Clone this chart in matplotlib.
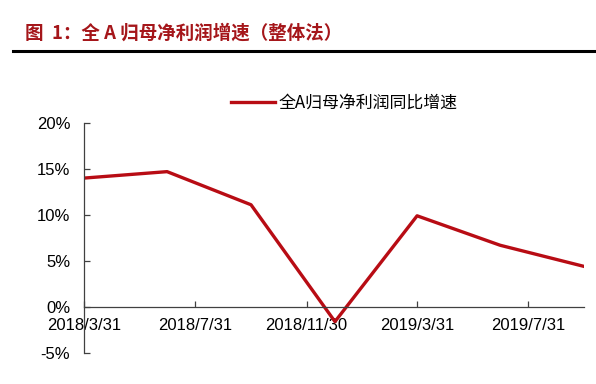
import matplotlib
matplotlib.use("Agg")
import matplotlib.pyplot as plt
import matplotlib.ticker as mticker
import pandas as pd

plt.rcParams['font.family'] = ['Liberation Sans', 'Noto Sans CJK SC', 'DejaVu Sans']

dates = ['2018-03-31', '2018-06-30', '2018-09-30', '2018-12-31',
         '2019-03-31', '2019-06-30', '2019-09-30']
growth = [14.0, 14.7, 11.1, -1.6, 9.9, 6.7, 4.4]
tick_dates = ['2018-03-31', '2018-07-31', '2018-11-30', '2019-03-31', '2019-07-31']
tick_labels = ['2018/3/31', '2018/7/31', '2018/11/30', '2019/3/31', '2019/7/31']
series_name = '全A归母净利润同比增速'
title = '图  1：全 A 归母净利润增速（整体法）'

red = '#B80C14'

fig = plt.figure(figsize=(5.96, 3.84), dpi=100)
ax = fig.add_axes([0.141, 0.081, 0.839, 0.599])

x = pd.to_datetime(dates)
ax.plot(x, growth, color=red, lw=2.4, label=series_name)

ax.set_xlim(x[0], x[-1])
ax.set_ylim(-5, 20)
ax.set_yticks([-5, 0, 5, 10, 15, 20])
ax.yaxis.set_major_formatter(mticker.FuncFormatter(lambda v, p: f'{v:.0f}%'))
ax.set_xticks(pd.to_datetime(tick_dates))
ax.set_xticklabels(tick_labels)

for s in ['top', 'right']:
    ax.spines[s].set_visible(False)
ax.spines['bottom'].set_position(('data', 0))
for s in ['left', 'bottom']:
    ax.spines[s].set_color('#404040')
    ax.spines[s].set_linewidth(0.9)
ax.tick_params(axis='both', direction='in', length=4, color='#404040',
               labelsize=12, width=0.9)
ax.tick_params(axis='y', pad=10)
ax.tick_params(axis='x', pad=8)

ax.legend(loc='center left', bbox_to_anchor=(0.28, 1.087), frameon=False,
          prop={'family': ['Noto Sans CJK SC'], 'size': 12.2},
          handlelength=2.6, handletextpad=0.2, borderaxespad=0)

fig.text(0.042, 0.913, title, color='#A5161A', fontsize=13.3, fontweight='bold',
         family=['Noto Sans CJK SC', 'DejaVu Sans'], va='center')
fig.add_artist(plt.Line2D([0.022, 1.0], [0.867, 0.867], color='black', lw=2.2,
                          transform=fig.transFigure))

fig.savefig('out.png', dpi=100)
